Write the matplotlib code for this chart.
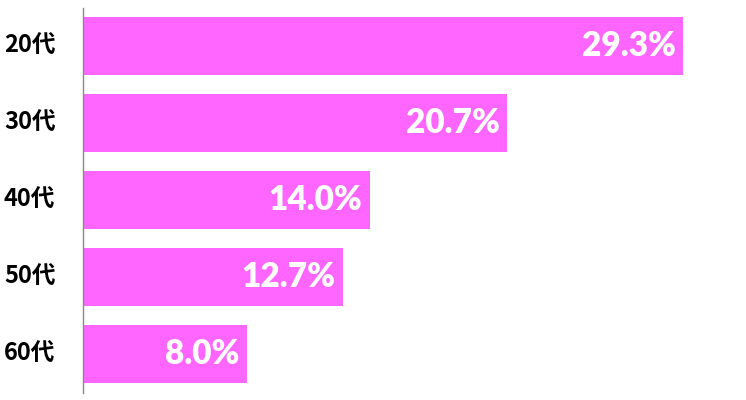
import matplotlib.pyplot as plt
import matplotlib.transforms as mtransforms

# data
ages = ["20代", "30代", "40代", "50代", "60代"]
shares = [29.3, 20.7, 14.0, 12.7, 8.0]
bar_color = "#FF66FF"

fig = plt.figure(figsize=(7.46, 4.0), dpi=100)
ax = fig.add_axes([83 / 746, 7.5 / 400, 655 / 746, 385 / 400])

ypos = list(range(len(ages)))
ax.barh(ypos, shares, height=0.753, color=bar_color)

for y, v in zip(ypos, shares):
    ax.text(v - 0.35, y, f"{v:.1f}%", ha="right", va="center",
            color="white", fontsize=24, fontweight="heavy",
            family=["Lato", "DejaVu Sans"])

ax.set_xlim(0, 32)
ax.set_ylim(4.5, -0.5)
ax.set_yticks([])
ax.set_xticks([])
for s in ["top", "right", "bottom"]:
    ax.spines[s].set_visible(False)
ax.spines["left"].set_color("#888888")
ax.spines["left"].set_linewidth(1)

# category labels at the left edge of the figure
trans = mtransforms.blended_transform_factory(fig.transFigure, ax.transData)
for y, lab in zip(ypos, ages):
    fig.text(4 / 746, y, lab, transform=trans, ha="left", va="center",
             fontsize=17, fontweight="bold",
             family=["Noto Sans CJK JP", "DejaVu Sans"])

fig.savefig("out.png", dpi=100)
